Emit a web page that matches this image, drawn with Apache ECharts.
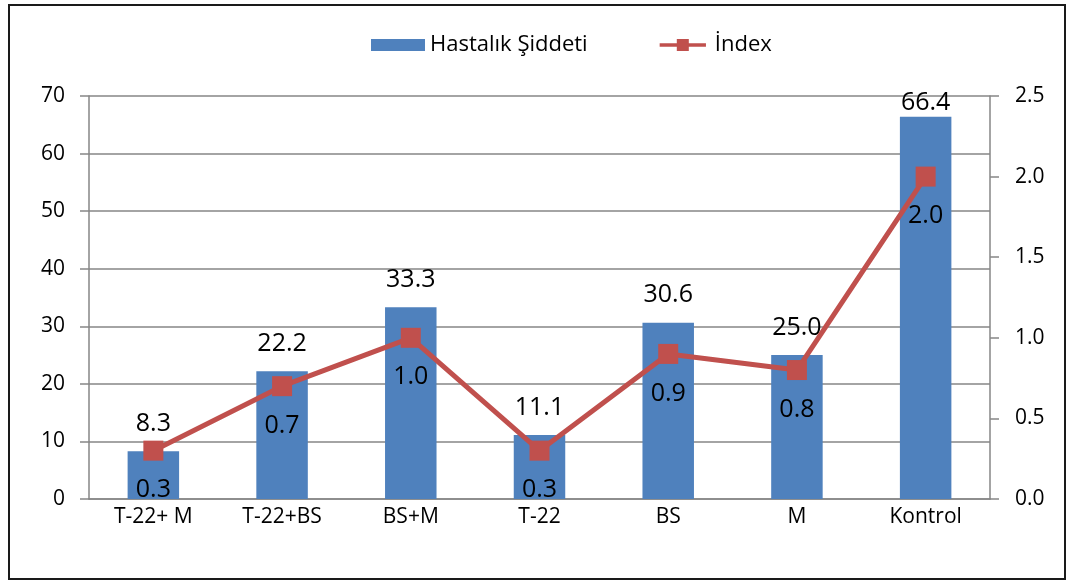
<!DOCTYPE html>
<html>
<head>
<meta charset="utf-8">
<script src="https://cdn.jsdelivr.net/npm/echarts@6/dist/echarts.min.js"></script>
<style>
    html, body { margin: 0; padding: 0; background: #fff; }
    #frame { position: absolute; left: 8px; top: 4px; width: 1058px; height: 576px; border: 2px solid #1a1a1a; box-sizing: border-box; }
    #chart { position: absolute; left: 0; top: 0; width: 1075px; height: 587px; }
</style>
</head>
<body>
<div id="frame"></div>
<div id="chart"></div>
<script>
// Catégories et valeurs
const categories = ["T-22+ M", "T-22+BS", "BS+M", "T-22", "BS", "M", "Kontrol"];
const hastalikSiddeti = [8.3, 22.2, 33.3, 11.1, 30.6, 25.0, 66.4];
const indexValues = [0.3, 0.7, 1.0, 0.3, 0.9, 0.8, 2.0];
const leftTicks = { min: 0, max: 70, interval: 10 };
const rightTicks = { min: 0, max: 2.5, interval: 0.5 };

const FONT = "Open Sans";
const axisGray = "#868686";
const red = "#C0504D";

// Icône de légende : trait épais avec un carré au milieu
const lineIcon = "path://M0,5H20V0H34V5H54V9H34V14H20V9H0Z";

const chart = echarts.init(document.getElementById("chart"));

// La dernière étiquette est collée à la barre (limite haute de la zone de tracé)
const barData = hastalikSiddeti.map((v, i) =>
    i === hastalikSiddeti.length - 1 ? { value: v, label: { distance: 1 } } : v);

chart.setOption({
    animation: false,
    textStyle: { fontFamily: FONT },
    legend: {
        top: 29,
        left: 366,
        itemGap: 72,
        itemWidth: 54,
        itemHeight: 12,
        textStyle: { fontFamily: FONT, fontSize: 22, color: "#000" },
        data: [
            { name: "Hastalık Şiddeti", icon: "rect" },
            { name: "İndex", icon: lineIcon, itemStyle: { color: red } }
        ]
    },
    grid: { left: 89, right: 85, top: 96, bottom: 88 },
    xAxis: {
        type: "category",
        data: categories,
        axisLine: { lineStyle: { color: axisGray, width: 1.5 } },
        axisTick: { alignWithLabel: false, length: 7, lineStyle: { color: axisGray, width: 1.5 } },
        axisLabel: { fontFamily: FONT, fontSize: 21, color: "#000", margin: 8 }
    },
    yAxis: [
        {
            type: "value",
            min: leftTicks.min, max: leftTicks.max, interval: leftTicks.interval,
            axisLine: { show: true, lineStyle: { color: axisGray, width: 1.5 } },
            axisTick: { show: true, length: 9, lineStyle: { color: axisGray, width: 1.5 } },
            splitLine: { lineStyle: { color: axisGray, width: 1.5 } },
            axisLabel: { fontFamily: FONT, fontSize: 21, color: "#000", margin: 24 }
        },
        {
            type: "value",
            min: rightTicks.min, max: rightTicks.max, interval: rightTicks.interval,
            axisLine: { show: true, lineStyle: { color: axisGray, width: 1.5 } },
            axisTick: { show: true, length: 9, lineStyle: { color: axisGray, width: 1.5 } },
            splitLine: { show: false },
            axisLabel: {
                fontFamily: FONT, fontSize: 21, color: "#000", margin: 25,
                formatter: (v) => v.toFixed(1)
            }
        }
    ],
    series: [
        {
            name: "Hastalık Şiddeti",
            type: "bar",
            yAxisIndex: 0,
            barWidth: "40%",
            itemStyle: { color: "#4F81BD" },
            label: {
                show: true, position: "top", distance: 15,
                fontFamily: FONT, fontSize: 25, color: "#000",
                formatter: (p) => p.value.toFixed(1)
            },
            data: barData
        },
        {
            name: "İndex",
            type: "line",
            yAxisIndex: 1,
            symbol: "rect",
            symbolSize: 20,
            itemStyle: { color: red },
            lineStyle: { color: red, width: 5 },
            label: {
                show: true, position: "bottom", distance: 17,
                fontFamily: FONT, fontSize: 25, color: "#000",
                formatter: (p) => p.value.toFixed(1)
            },
            data: indexValues
        }
    ]
});
</script>
</body>
</html>
